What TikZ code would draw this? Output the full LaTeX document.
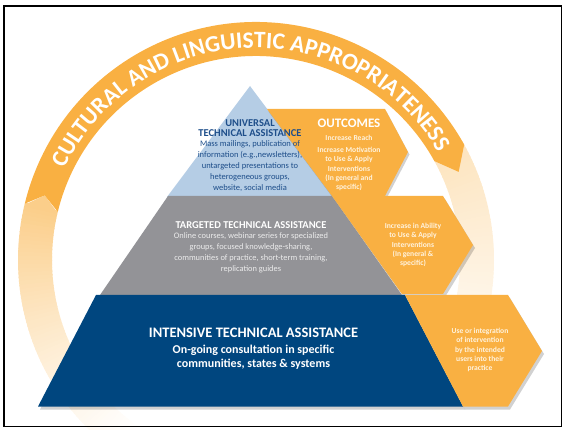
\documentclass[tikz,border=0pt]{standalone}
\usepackage{fontspec}
\setmainfont{Carlito}
\usetikzlibrary{decorations.text,calc}
\definecolor{orng}{RGB}{249,176,66}
\definecolor{triblue}{RGB}{181,205,229}
\definecolor{greyl}{RGB}{147,147,151}
\definecolor{dblue}{RGB}{0,70,127}
\definecolor{tritext}{RGB}{30,78,138}
\definecolor{cream}{RGB}{255,243,222}
\definecolor{greytext}{RGB}{236,236,236}
\begin{document}
\begin{tikzpicture}[x=1pt,y=1pt,
  shadowfill/.style={fill=black,opacity=0.18},
  tribody/.style={align=center,text=tritext,font=\fontsize{8.5}{11}\selectfont},
  trititle/.style={align=center,text=tritext,font=\bfseries\fontsize{10.5}{10.5}\selectfont},
  outtext/.style={align=center,text=cream,font=\bfseries\fontsize{7.6}{9.2}\selectfont},
  greytitle/.style={text=white,font=\bfseries\fontsize{10.5}{11}\selectfont},
  greybody/.style={align=center,text=greytext,font=\fontsize{8.4}{11}\selectfont},
  bluetitle/.style={text=white,font=\bfseries\fontsize{14.5}{15}\selectfont},
  bluebody/.style={align=center,text=white,font=\bfseries\fontsize{12}{13.5}\selectfont}]
\useasboundingbox (0,0) rectangle (563,429);
\coordinate (C) at (256,169);
\def\Rin{204}
\def\Rout{238}
\def\Rmid{221}
% left faded ring
\foreach \i in {0,...,69} {
  \pgfmathsetmacro{\a}{166+\i}
  \pgfmathsetmacro{\b}{167.3+\i}
  \pgfmathsetmacro{\p}{62*(1-\i/70)^1.3}
  \fill[orng!\p!white] ([shift={(C)}]\a:\Rin) arc[start angle=\a,end angle=\b,radius=\Rin] -- ([shift={(C)}]\b:\Rout) arc[start angle=\b,end angle=\a,radius=\Rout] -- cycle;
}
\fill[orng!62!white] ([shift={(C)}]166.6:\Rout) -- ([shift={(C)}]163:\Rmid) -- ([shift={(C)}]166.6:\Rin) -- cycle;
% right faded ring
\foreach \i in {0,...,69} {
  \pgfmathsetmacro{\a}{30-\i}
  \pgfmathsetmacro{\b}{28.7-\i}
  \pgfmathsetmacro{\p}{34*(1-\i/70)^1.2}
  \fill[orng!\p!white] ([shift={(C)}]\a:\Rin) arc[start angle=\a,end angle=\b,radius=\Rin] -- ([shift={(C)}]\b:\Rout) arc[start angle=\b,end angle=\a,radius=\Rout] -- cycle;
}
% solid ring arrow
\fill[orng] ([shift={(C)}]166.3:\Rout) arc[start angle=166.3,end angle=29,radius=\Rout]
  -- ([shift={(C)}]23.5:\Rmid) -- ([shift={(C)}]29:\Rin)
  arc[start angle=29,end angle=166.3,radius=\Rin] -- ([shift={(C)}]163:\Rmid) -- cycle;
\path[decorate,decoration={text along path,text color=white,text align=center,
  text={|\fontsize{23.5}{23.5}\selectfont\bfseries|CULTURAL AND LINGUISTIC APPROPRIATENESS}}]
  ([shift={(C)}]157:212) arc[start angle=157,end angle=28,radius=212];
% triangle
\fill[triblue] (250,343) -- (333,232) -- (167,232) -- cycle;
% orange top box
\fill[shadowfill] ([shift={(1.5,-2.5)}]267,320) -- ([shift={(1.5,-2.5)}]385,320) -- ([shift={(1.5,-2.5)}]408,277) -- ([shift={(1.5,-2.5)}]385,233) -- ([shift={(1.5,-2.5)}]332,233) -- cycle;
\fill[orng] (267,320) -- (385,320) -- (408,277) -- (385,233) -- (332,233) -- cycle;
% grey trapezoid
\fill[shadowfill] (170,230) -- (331,230) -- (401,131) -- (101,131) -- cycle;
\fill[greyl] (168,233) -- (332,233) -- (402,134) -- (100,134) -- cycle;
% orange middle box
\fill[shadowfill] (334,230) -- (445,230) -- (475,181) -- (445,132) -- (404,132) -- cycle;
\fill[orng] (332,233) -- (443,233) -- (473,184) -- (443,135) -- (402,135) -- cycle;
% blue bottom
\fill[shadowfill] (98,131) -- (406,131) -- (465,19.5) -- (40,19.5) -- cycle;
\fill[dblue] (96,134) -- (405,134) -- (463,22.5) -- (38,22.5) -- cycle;
% orange bottom box
\fill[shadowfill] (407,131) -- (510,131) -- (544,75) -- (510,19.5) -- (465,19.5) -- cycle;
\fill[orng] (405,134) -- (508,134) -- (542,78) -- (508,22.5) -- (463,22.5) -- cycle;
% texts
\node[trititle] (ut) at (250,301) {UNIVERSAL\\[0pt]TECHNICAL ASSISTANCE};
\node[tribody] (ub) at (250,263) {Mass mailings, publication of\\information (e.g.,newsletters),\\untargeted presentations to\\heterogeneous groups,\\website, social media};
\node[text=white,font=\bfseries\fontsize{13}{13}\selectfont] (oc) at (349,306) {OUTCOMES};
\node[outtext] (o1) at (349,291) {Increase Reach};
\node[outtext] (o2) at (349,260) {Increase Motivation\\to Use \& Apply\\Interventions\\(In general and\\specific)};
\node[greytitle] (gt) at (251,204) {TARGETED TECHNICAL ASSISTANCE};
\node[greybody] (gb) at (251,176) {Online courses, webinar series for specialized\\groups, focused knowledge-sharing,\\communities of practice, short-term training,\\replication guides};
\node[outtext] (m1) at (413,184) {Increase in Ability\\to Use \& Apply\\Interventions\\(In general \&\\specific)};
\node[bluetitle] (bt) at (253.5,96) {INTENSIVE TECHNICAL ASSISTANCE};
\node[bluebody] (bb) at (253.5,72) {On-going consultation in specific\\communities, states \& systems};
\node[outtext] (b1) at (480,79) {Use or integration\\of intervention\\by the intended\\users into their\\practice};
% frame
\draw[line width=1.8pt] (3.6,2.5) rectangle (561.5,423);
\end{tikzpicture}
\end{document}
